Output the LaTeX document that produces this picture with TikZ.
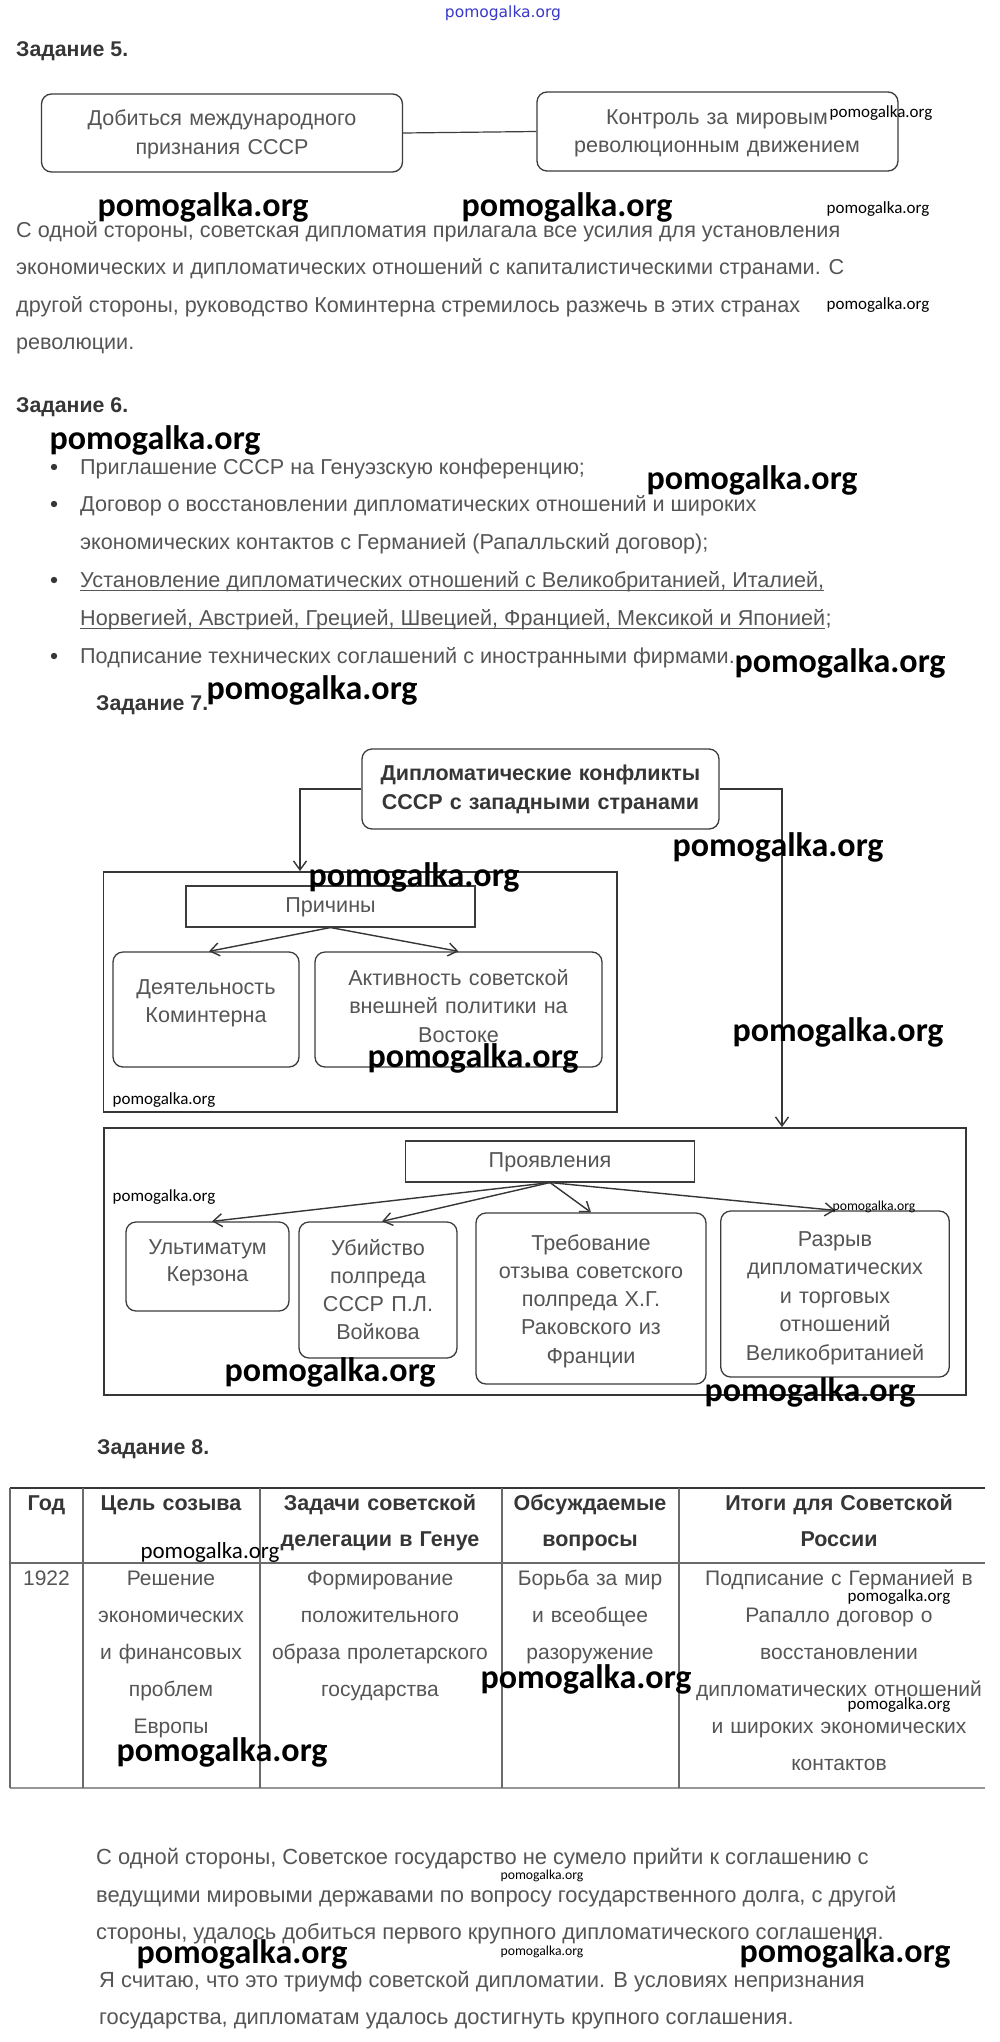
\documentclass[tikz,border=0pt]{standalone}
\usepackage{fontspec}
\setmainfont{Liberation Sans}
\newfontfamily\wmfont{Carlito}
\newfontfamily\logofont{DejaVu Sans}
\usetikzlibrary{arrows.meta,calc}
\definecolor{txt}{HTML}{555555}
\definecolor{head}{HTML}{363636}
\definecolor{boxline}{HTML}{3C3C3C}
\definecolor{logoblue}{HTML}{3838C8}
\definecolor{tline}{HTML}{6A6A6A}
\begin{document}
\begin{tikzpicture}[x=1pt,y=-1pt,
  bodytxt/.style={anchor=base west, inner sep=0, text=txt, font=\fontsize{21.6}{37}\selectfont},
  endtxt/.style={anchor=base west, inner sep=0, text=txt, font=\fontsize{21.9}{37}\selectfont},
  headtxt/.style={anchor=base west, inner sep=0, text=head, font=\bfseries\fontsize{21.3}{24}\selectfont},
  rbox/.style={draw=boxline, line width=1.3pt, rounded corners=10pt, inner sep=0},
  sbox/.style={draw=boxline, line width=1.1pt, inner sep=0},
  frame/.style={draw=head, line width=1.8pt, inner sep=0},
  boxtxt/.style={anchor=base, inner sep=0, align=center, text=txt},
  arr/.style={draw=head, line width=1.4pt, -{Straight Barb[length=9pt,width=13pt]}},
  thead/.style={anchor=base, inner sep=0, align=center, text=head, font=\bfseries\fontsize{21.5}{36}\selectfont},
  tbody/.style={anchor=base, inner sep=0, align=center, text=txt, font=\fontsize{21}{37}\selectfont},
  wmB/.style={inner sep=0, text=black, font=\wmfont\bfseries\fontsize{34}{34}\selectfont},
  wmM/.style={inner sep=0, text=black, font=\wmfont\fontsize{23}{23}\selectfont},
  wmS/.style={inner sep=0, text=black, font=\wmfont\fontsize{17}{17}\selectfont},
  wmT/.style={inner sep=0, text=black, font=\wmfont\fontsize{13.7}{14}\selectfont}
]
\useasboundingbox (0,0) rectangle (1000,2042);
\fill[white] (0,0) rectangle (1000,2042);

% logo
\node[inner sep=0, text=logoblue, font=\logofont\fontsize{15.5}{16}\selectfont] (logo) at (503,13) {pomogalka.org};

% ---------- Task 5
\node[headtxt] (t5) at (16,57) {Задание 5.};
\node[rbox, minimum width=361pt, minimum height=78pt] (b1) at (222,133) {};
\node[rbox, minimum width=361pt, minimum height=79pt] (b2) at (717.5,131.5) {};
\node[boxtxt, text width=350pt, font=\fontsize{21.5}{29}\selectfont] (b1t) at (222,125) {Добиться международного\\признания СССР};
\node[boxtxt, text width=350pt, font=\fontsize{21.5}{28.5}\selectfont] (b2t) at (717,124) {Контроль за мировым\\революционным движением};
\draw[boxline, line width=1.2pt] (b1.east) -- (b2.west);

\node[bodytxt] (p1) at (16,237) {С одной стороны, советская дипломатия прилагала все усилия для установления};
\node[bodytxt] (p2) at (16,274) {экономических и дипломатических отношений с капиталистическими странами. С};
\node[bodytxt] (p3) at (16,312) {другой стороны, руководство Коминтерна стремилось разжечь в этих странах};
\node[bodytxt] (p4) at (16,349) {революции.};

% ---------- Task 6
\node[headtxt] (t6) at (16,412) {Задание 6.};
\fill[head] (54,467) circle[radius=3.2pt];
\fill[head] (54,504) circle[radius=3.2pt];
\fill[head] (54,580) circle[radius=3.2pt];
\fill[head] (54,656) circle[radius=3.2pt];
\node[bodytxt] (l1) at (80,474) {Приглашение СССР на Генуэзскую конференцию;};
\node[bodytxt] (l2) at (80,511) {Договор о восстановлении дипломатических отношений и широких};
\node[bodytxt] (l3) at (80,549) {экономических контактов с Германией (Рапалльский договор);};
\node[bodytxt] (l4) at (80,587) {Установление дипломатических отношений с Великобританией, Италией,};
\node[bodytxt] (l5) at (80,625) {Норвегией, Австрией, Грецией, Швецией, Францией, Мексикой и Японией};
\node[bodytxt] (l5b) at (l5.base east) {;};
\node[bodytxt] (l6) at (80,663) {Подписание технических соглашений с иностранными фирмами.};
\draw[txt, line width=1pt] ([yshift=-3pt]l4.base west) -- ([yshift=-3pt]l4.base east);
\draw[txt, line width=1pt] ([yshift=-3pt]l5.base west) -- ([yshift=-3pt]l5.base east);

% ---------- Task 7
\node[headtxt] (t7) at (96,710) {Задание 7.};
\node[rbox, minimum width=357pt, minimum height=80pt] (top) at (540.5,789) {};
\node[boxtxt, text=head, text width=350pt, font=\bfseries\fontsize{21.5}{29}\selectfont] (topt) at (540.5,780) {Дипломатические конфликты\\СССР с западными странами};

\node[frame, minimum width=513.5pt, minimum height=240pt] (causes) at (360.25,992) {};
\node[sbox, minimum width=289pt, minimum height=41pt] (prich) at (330.5,906.5) {};
\node[boxtxt, font=\fontsize{21.6}{28}\selectfont] (pricht) at (330.5,912) {Причины};
\node[rbox, minimum width=186pt, minimum height=115pt] (deyat) at (206,1009.5) {};
\node[boxtxt, text width=180pt, font=\fontsize{21.6}{28}\selectfont] (deyatt) at (206,994) {Деятельность\\Коминтерна};
\node[rbox, minimum width=287pt, minimum height=115pt] (akt) at (458.5,1009.5) {};
\node[boxtxt, text width=280pt, font=\fontsize{21.6}{28.5}\selectfont] (aktt) at (458.5,985) {Активность советской\\внешней политики на\\Востоке};

\node[frame, minimum width=862.5pt, minimum height=267pt] (manif) at (535,1261.5) {};
\node[sbox, minimum width=289.5pt, minimum height=41pt] (prj) at (550,1161.5) {};
\node[boxtxt, font=\fontsize{21.6}{28}\selectfont] (prjt) at (550,1167) {Проявления};
\node[rbox, minimum width=163pt, minimum height=89pt] (ult) at (207.5,1266.5) {};
\node[boxtxt, text width=160pt, font=\fontsize{21.6}{27}\selectfont] (ultt) at (207.5,1254) {Ультиматум\\Керзона};
\node[rbox, minimum width=158pt, minimum height=136pt] (ub) at (378,1290) {};
\node[boxtxt, text width=155pt, font=\fontsize{21.6}{28.3}\selectfont] (ubt) at (378,1255) {Убийство\\полпреда\\СССР П.Л.\\Войкова};
\node[rbox, minimum width=230pt, minimum height=171pt] (treb) at (591,1298.5) {};
\node[boxtxt, text width=228pt, font=\fontsize{21.6}{28.3}\selectfont] (trebt) at (591,1250) {Требование\\отзыва советского\\полпреда Х.Г.\\Раковского из\\Франции};
\node[rbox, minimum width=228.5pt, minimum height=166pt] (razr) at (835,1294) {};
\node[boxtxt, text width=227pt, font=\fontsize{21.6}{28.5}\selectfont] (razrt) at (835,1246) {Разрыв\\дипломатических\\и торговых\\отношений\\Великобританией};

\coordinate (lturn) at (300,789);
\coordinate (rturn) at (782,789);
\draw[arr] (top.west) -- (lturn) -- (lturn |- causes.north);
\draw[arr] (top.east) -- (rturn) -- (rturn |- manif.north);
\draw[arr] (prich.south) -- ([xshift=3pt]deyat.north);
\draw[arr] (prich.south) -- (akt.north);
\draw[arr] (prj.south) -- ([xshift=4.5pt]ult.north);
\draw[arr] (prj.south) -- ([xshift=4pt]ub.north);
\draw[arr] (prj.south) -- (treb.north);
\draw[arr] (prj.south) -- (razr.north);

% ---------- Task 8
\node[headtxt] (t8) at (97,1454) {Задание 8.};
\coordinate (tl) at (10,1488);
\coordinate (tr) at (985,1488);
\coordinate (ml) at (10,1563);
\coordinate (mr) at (985,1563);
\coordinate (bl) at (10,1788);
\coordinate (br) at (985,1788);
\draw[head, line width=1.5pt] (tl) -- (tr);
\draw[tline, line width=1.3pt] (ml) -- (mr);
\draw[tline!70, line width=2pt] (bl) -- (br);
\foreach \cx in {10,83,260,502,679}{
  \draw[tline, line width=1.1pt] (\cx,1488) -- (\cx,1788);
}
\node[thead, text width=70pt] (h1) at (46.5,1510) {Год};
\node[thead, text width=170pt] (h2) at (171,1510) {Цель созыва};
\node[thead, text width=238pt] (h3) at (380,1510) {Задачи советской\\делегации в Генуе};
\node[thead, text width=175pt] (h4) at (590,1510) {Обсуждаемые\\вопросы};
\node[thead, text width=300pt] (h5) at (839,1510) {Итоги для Советской\\России};
\node[tbody, text width=70pt] (c1) at (46.5,1585) {1922};
\node[tbody, text width=170pt] (c2) at (171,1585) {Решение\\экономических\\и финансовых\\проблем\\Европы};
\node[tbody, text width=238pt] (c3) at (380,1585) {Формирование\\положительного\\образа пролетарского\\государства};
\node[tbody, text width=175pt] (c4) at (590,1585) {Борьба за мир\\и всеобщее\\разоружение};
\node[tbody, text width=310pt] (c5) at (839,1585) {Подписание с Германией в\\Рапалло договор о\\восстановлении\\дипломатических отношений\\и широких экономических\\контактов};

% ---------- final paragraph
\node[endtxt] (f1) at (96,1864) {С одной стороны, Советское государство не сумело прийти к соглашению с};
\node[endtxt] (f2) at (96,1902) {ведущими мировыми державами по вопросу государственного долга, с другой};
\node[endtxt] (f3) at (96,1939) {стороны, удалось добиться первого крупного дипломатического соглашения.};
\node[endtxt] (f4) at (99,1987) {Я считаю, что это триумф советской дипломатии. В условиях непризнания};
\node[endtxt] (f5) at (99,2024) {государства, дипломатам удалось достигнуть крупного соглашения.};

% ---------- watermarks
\node[wmB] (w1) at (203,207) {pomogalka.org};
\node[wmB] (w2) at (567,207) {pomogalka.org};
\node[wmB] (w3) at (155,440) {pomogalka.org};
\node[wmB] (w4) at (752,480) {pomogalka.org};
\node[wmB] (w5) at (840,663) {pomogalka.org};
\node[wmB] (w6) at (312,690) {pomogalka.org};
\node[wmB] (w7) at (778,847) {pomogalka.org};
\node[wmB] (w8) at (414,877) {pomogalka.org};
\node[wmB] (w9) at (838,1032) {pomogalka.org};
\node[wmB] (w10) at (473,1058) {pomogalka.org};
\node[wmB] (w11) at (330,1372) {pomogalka.org};
\node[wmB] (w12) at (810,1392) {pomogalka.org};
\node[wmB] (w13) at (586,1679) {pomogalka.org};
\node[wmB] (w14) at (222,1752) {pomogalka.org};
\node[wmB] (w15) at (242,1954) {pomogalka.org};
\node[wmB] (w16) at (845,1953) {pomogalka.org};
\node[wmS] (s1) at (881,113) {pomogalka.org};
\node[wmS] (s2) at (878,209) {pomogalka.org};
\node[wmS] (s3) at (878,305) {pomogalka.org};
\node[wmS] (s4) at (164,1100) {pomogalka.org};
\node[wmS] (s5) at (164,1197) {pomogalka.org};
\node[wmS] (s6) at (899,1597) {pomogalka.org};
\node[wmS] (s7) at (899,1705) {pomogalka.org};
\node[wmM] (m1) at (210,1552) {pomogalka.org};
\node[wmT] (x1) at (874,1207) {pomogalka.org};
\node[wmT] (x2) at (542,1876) {pomogalka.org};
\node[wmT] (x3) at (542,1952) {pomogalka.org};
\end{tikzpicture}
\end{document}
